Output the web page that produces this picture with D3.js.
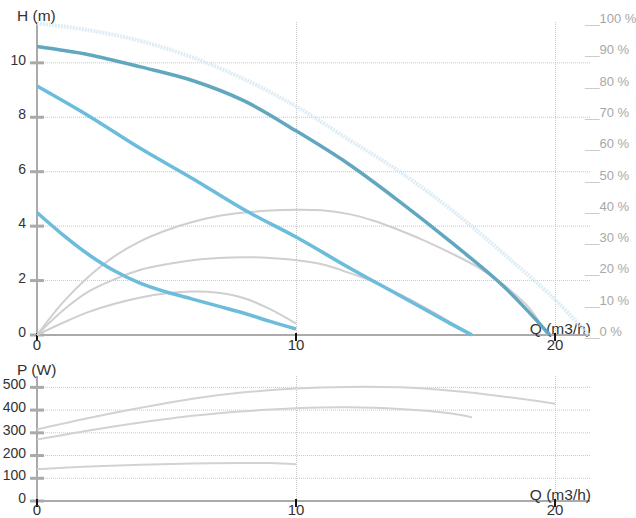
<!DOCTYPE html>
<html><head><meta charset="utf-8">
<script src="https://cdn.jsdelivr.net/npm/d3@7"></script>
<style>
html,body{margin:0;padding:0;background:#fff;}
svg{display:block;font-family:"Liberation Sans",Arial,sans-serif;}
</style></head>
<body><svg id="c" width="636" height="518"></svg>
<script>
// ---- data ----
const hTicks = [0,2,4,6,8,10];
const pTicks = [0,100,200,300,400,500];
const qTicks = [0,10,20];
const effTicks = [0,10,20,30,40,50,60,70,80,90,100];

// head curves (Q m3/h, H m)
const hMaxQ = [0,2,4,6,8,10,12,14,16,18,20,21.3];
const hMaxH = [11.45,11.2,10.8,10.2,9.4,8.4,7.2,6.0,4.6,3.0,1.3,0];
const hHighQ = [0,2,4,6,8,10,12,14,16,18,19.8];
const hHighH = [10.6,10.3,9.85,9.35,8.6,7.5,6.3,4.9,3.4,1.8,0];
const hMidQ = [0,2,4,6,8,10,12,14,16,16.8];
const hMidH = [9.15,8.05,6.85,5.75,4.6,3.6,2.5,1.45,0.4,0];
const hLowQ = [0,1,2,3,4,5,6,7,8,9,10];
const hLowH = [4.5,3.68,2.95,2.35,1.9,1.58,1.32,1.06,0.8,0.5,0.22];

// efficiency-like gray curves in top chart (H units)
const eHighQ = [0,1,2,3,4,5,6,7,8,9,10,11,12,13,14,15,16,17,18,19,19.7];
const eHighH = [0,1.2,2.15,2.9,3.45,3.85,4.15,4.37,4.5,4.57,4.6,4.58,4.45,4.2,3.85,3.45,3.0,2.5,1.85,1.0,0];
const eMidQ = [0,1,2,3,4,5,6,7,8,9,10,11,12,13,14,15,16,16.8];
const eMidH = [0,0.9,1.6,2.05,2.4,2.6,2.75,2.83,2.86,2.83,2.75,2.6,2.3,1.95,1.5,1.0,0.45,0];
const eLowQ = [0,1,2,3,4,5,6,7,8,9,10];
const eLowH = [0,0.45,0.85,1.15,1.38,1.53,1.6,1.55,1.35,0.95,0.42];

// power curves (Q, P W)
const pHighQ = [0,2,4,6,8,10,12,14,16,18,20];
const pHighP = [315,365,410,450,478,495,502,500,485,460,428];
const pMidQ = [0,2,4,6,8,10,12,14,16,16.8];
const pMidP = [270,310,345,375,395,408,412,405,385,368];
const pLowQ = [0,2,4,6,8,9,10];
const pLowP = [140,152,160,165,167,167,162];

// ---- layout ----
const svg = d3.select("#c");
const x = d3.scaleLinear().domain([0,21.35]).range([37,590]);
const yH = d3.scaleLinear().domain([0,11.5]).range([335,22]);
const yE = d3.scaleLinear().domain([0,100]).range([335,22]);
const yP = d3.scaleLinear().domain([0,550]).range([501,376]);

const gridCol = "#c8c8c8", axisCol = "#aaaaaa", txtCol = "#333";

function panel(y, ticks, top, bottom, label, qLabelY, tickLabelY) {
  const g = svg.append("g");
  g.selectAll(null).data(ticks.filter(d=>d>0)).enter().append("line")
    .attr("x1",x(0)).attr("x2",590).attr("y1",d=>y(d)).attr("y2",d=>y(d))
    .attr("stroke",gridCol).attr("stroke-dasharray","1,1").attr("stroke-width",1);
  g.selectAll(null).data(qTicks.filter(d=>d>0)).enter().append("line")
    .attr("x1",d=>Math.round(x(d))+0.5).attr("x2",d=>Math.round(x(d))+0.5).attr("y1",top).attr("y2",bottom)
    .attr("stroke",gridCol).attr("stroke-dasharray","1,1").attr("stroke-width",1);
  g.append("line").attr("x1",x(0)).attr("x2",x(0)).attr("y1",top).attr("y2",bottom)
    .attr("stroke",axisCol).attr("stroke-width",2);
  g.selectAll(null).data(ticks).enter().append("line")
    .attr("x1",30).attr("x2",44).attr("y1",d=>y(d)).attr("y2",d=>y(d))
    .attr("stroke",axisCol).attr("stroke-width",3);
  g.selectAll(null).data(ticks).enter().append("text")
    .attr("x",26).attr("y",d=>y(d)+2).attr("text-anchor","end")
    .attr("font-size",14).attr("fill",txtCol).text(d=>d);
  g.append("line").attr("x1",x(0)).attr("x2",590).attr("y1",bottom).attr("y2",bottom)
    .attr("stroke",axisCol).attr("stroke-width",2);
  g.selectAll(null).data(qTicks).enter().append("line")
    .attr("x1",d=>x(d)).attr("x2",d=>x(d)).attr("y1",bottom-2).attr("y2",bottom+6)
    .attr("stroke","#111").attr("stroke-width",2);
  g.selectAll(null).data(qTicks).enter().append("text")
    .attr("x",d=>x(d)).attr("y",tickLabelY).attr("text-anchor","middle")
    .attr("font-size",15).attr("fill",txtCol).text(d=>d);
  g.append("text").attr("x",17).attr("y",top-1).attr("font-size",15.5).attr("fill",txtCol).text(label);
  g.append("text").attr("x",591).attr("y",qLabelY).attr("text-anchor","end")
    .attr("font-size",15.5).attr("fill",txtCol).text("Q (m3/h)");
  return g;
}

panel(yH, hTicks, 22, 335, "H (m)", 334, 350);
panel(yP, pTicks, 376, 501, "P (W)", 500, 515);

// efficiency ticks on right
const eff = svg.selectAll(null).data(effTicks).enter().append("text")
  .attr("x",585).attr("y",d=>yE(d)+1).attr("font-size",13).attr("fill","#a8a8a8");
eff.append("tspan").attr("fill","#c4c4c4").text("__");
eff.append("tspan").text(d=>d+" %");

const line = (xs, ys, yS) => d3.line().curve(d3.curveCatmullRom.alpha(0.5))
  .x((d,i)=>x(xs[i])).y((d,i)=>yS(ys[i]))(xs);

[[eHighQ,eHighH],[eMidQ,eMidH],[eLowQ,eLowH]].forEach(([q,h])=>{
  svg.append("path").attr("d",line(q,h,yH)).attr("fill","none")
    .attr("stroke","#cfcfcf").attr("stroke-width",2);
});
svg.append("path").attr("d",line(hMaxQ,hMaxH,yH)).attr("fill","none")
  .attr("stroke","#d6e9f3").attr("stroke-width",4).attr("stroke-dasharray","2,1").attr("opacity",0.8);
svg.append("path").attr("d",line(hHighQ,hHighH,yH)).attr("fill","none")
  .attr("stroke","#62a7c0").attr("stroke-width",3.5);
svg.append("path").attr("d",line(hMidQ,hMidH,yH)).attr("fill","none")
  .attr("stroke","#6cbcdc").attr("stroke-width",3.5);
svg.append("path").attr("d",line(hLowQ,hLowH,yH)).attr("fill","none")
  .attr("stroke","#6cbcdc").attr("stroke-width",3.5);

[[pHighQ,pHighP],[pMidQ,pMidP],[pLowQ,pLowP]].forEach(([q,p])=>{
  svg.append("path").attr("d",line(q,p,yP)).attr("fill","none")
    .attr("stroke","#d2d2d2").attr("stroke-width",2);
});
</script></body></html>
